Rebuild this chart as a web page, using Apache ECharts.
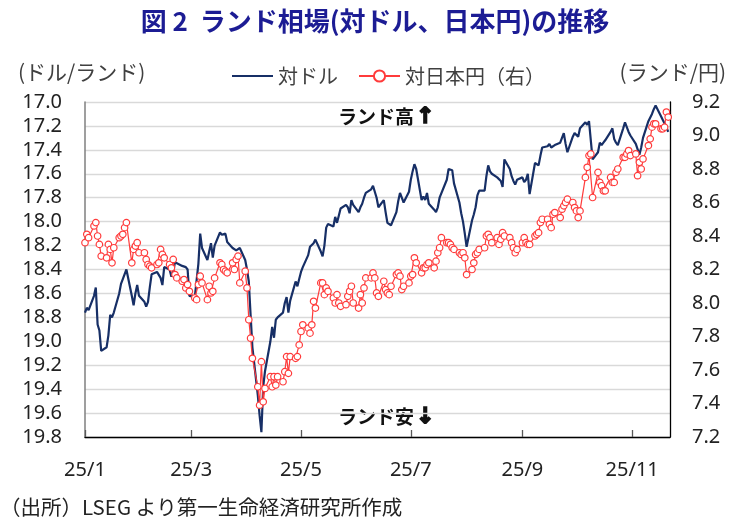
<!DOCTYPE html>
<html><head><meta charset="utf-8">
<script src="https://cdn.jsdelivr.net/npm/echarts@6/dist/echarts.min.js"></script>
<style>html,body{margin:0;padding:0;background:#fff}#c{width:729px;height:520px}</style>
</head><body><div id="c"></div>
<script>
// ---- data ----
const startDate = '2025-01-01';
const endDate = '2025-11-21';
const xTickDates = ['2025-01-01','2025-03-01','2025-05-01','2025-07-01','2025-09-01','2025-11-01'];
const xTickLabels = ['25/1','25/3','25/5','25/7','25/9','25/11'];
const seriesNames = ['対ドル','対日本円（右）'];
// rand per US dollar (left axis, inverted), one value per business day
const usdZar = [
18.76,18.72,18.74,
18.62,18.55,18.86,18.91,19.08,
19.05,18.95,18.78,18.80,18.76,
18.60,18.52,18.48,18.47,18.40,
18.62,18.70,18.60,18.53,18.62,
18.67,18.71,18.67,18.55,18.44,
18.42,18.43,18.47,18.53,18.38,
18.40,18.46,18.42,18.34,18.35,
18.37,18.38,18.38,18.40,18.62,
18.63,18.64,18.35,18.10,18.22,
18.32,18.25,18.18,18.30,18.20,
18.09,18.11,18.10,18.10,18.17,
18.22,18.23,18.24,18.25,18.22,
18.32,18.40,18.50,18.78,19.05,
19.45,19.62,19.76,19.38,19.25,
19.00,18.88,18.97,18.82,18.80,
18.76,18.68,18.63,18.76,18.66,
18.50,18.54,18.48,18.42,18.38,
18.28,18.21,18.22,18.18,18.15,
18.25,18.29,18.20,18.05,18.02,
18.04,17.96,18.01,17.95,17.89,
17.86,17.88,17.93,17.82,17.86,
17.92,17.88,17.85,17.80,17.76,
17.73,17.70,17.70,17.80,17.88,
17.82,17.92,18.01,18.00,18.03,
17.92,17.83,17.76,17.80,17.84,
17.75,17.65,17.58,17.52,17.56,
17.82,17.79,17.82,17.76,17.85,
17.90,17.92,17.88,17.80,17.80,
17.65,17.56,17.56,17.57,17.68,
17.84,17.93,18.00,18.10,18.21,
17.99,17.94,17.88,17.78,17.74,
17.74,17.62,17.53,17.58,17.60,
17.63,17.64,17.66,17.71,17.48,
17.56,17.62,17.66,17.69,17.65,
17.63,17.67,17.65,17.60,17.77,
17.51,17.51,17.53,17.45,17.38,
17.37,17.35,17.38,17.37,17.36,
17.34,17.33,17.26,17.35,17.42,
17.29,17.26,17.27,17.29,17.22,
17.17,17.19,17.16,17.15,17.48,
17.42,17.34,17.36,17.34,17.32,
17.25,17.22,17.31,17.34,17.36,
17.22,17.17,17.16,17.25,17.28,
17.35,17.36,17.44,17.38,17.30,
17.16,17.15,17.10,17.06,17.03,
17.12,17.15,17.18,17.21,17.25
];
// yen per rand (right axis), one value per business day
const jpyZar = [
8.36,8.41,8.39,
8.46,8.48,8.40,8.35,8.28,
8.27,8.35,8.32,8.24,8.33,
8.39,8.40,8.41,8.45,8.48,
8.24,8.32,8.34,8.36,8.30,
8.30,8.26,8.23,8.22,8.21,
8.23,8.24,8.32,8.29,8.27,
8.23,8.21,8.26,8.17,8.15,
8.13,8.14,8.09,8.11,8.07,
8.03,8.02,8.11,8.16,8.12,
8.02,8.10,8.06,8.07,8.15,
8.24,8.23,8.20,8.19,8.18,
8.24,8.20,8.26,8.28,8.12,
8.19,8.09,7.90,7.79,7.67,
7.50,7.39,7.65,7.41,7.49,
7.56,7.50,7.56,7.51,7.56,
7.53,7.59,7.68,7.58,7.68,
7.67,7.68,7.75,7.83,7.87,
7.85,7.82,7.87,8.01,7.97,
8.12,8.12,8.05,8.09,8.07,
8.03,8.00,8.05,8.00,7.98,
7.99,8.04,8.07,8.10,8.00,
7.97,8.05,8.00,8.09,8.15,
8.15,8.18,8.15,8.06,8.04,
8.13,8.08,8.06,8.05,8.10,
8.17,8.18,8.16,8.08,8.10,
8.12,8.16,8.17,8.27,8.24,
8.18,8.21,8.21,8.23,8.24,
8.21,8.25,8.30,8.33,8.39,
8.36,8.36,8.35,8.33,8.32,
8.30,8.29,8.30,8.27,8.17,
8.20,8.24,8.29,8.30,8.32,
8.33,8.40,8.41,8.39,8.36,
8.39,8.35,8.38,8.42,8.40,
8.39,8.36,8.33,8.30,8.32,
8.36,8.39,8.36,8.35,8.35,
8.40,8.41,8.42,8.48,8.50,
8.50,8.47,8.45,8.53,8.54,
8.51,8.56,8.58,8.60,8.62,
8.60,8.57,8.55,8.51,8.55,
8.75,8.81,8.88,8.89,8.63,
8.78,8.72,8.70,8.67,8.67,
8.75,8.72,8.72,8.78,8.80,
8.87,8.87,8.89,8.91,8.88,
8.89,8.76,8.84,8.80,8.86,
8.94,8.98,9.05,9.07,9.07,
9.04,9.04,9.05,9.14,9.11
];

// ---- helpers ----
const DAY = 86400000;
const t0 = Date.parse(startDate + 'T00:00:00Z');
function dayOffset(s){ return (Date.parse(s + 'T00:00:00Z') - t0) / DAY; }
function businessDays(s, e){
  const out = []; const end = Date.parse(e + 'T00:00:00Z');
  for (let t = Date.parse(s + 'T00:00:00Z'); t <= end; t += DAY){
    const wd = new Date(t).getUTCDay();
    if (wd !== 0 && wd !== 6) out.push(new Date(t).toISOString().slice(0,10));
  }
  return out;
}
const dates = businessDays(startDate, endDate);
const xs = dates.map(dayOffset);
const tickPos = xTickDates.map(dayOffset);
const blueData = xs.map((x,i) => [x, usdZar[i]]);
const redData = xs.map((x,i) => [x, jpyZar[i]]);

const NUM = "'Noto Sans','Noto Sans CJK JP',sans-serif";
const JP = "'Noto Sans CJK JP','Noto Sans',sans-serif";

const chart = echarts.init(document.getElementById('c'), null, {renderer:'canvas'});
chart.setOption({
  backgroundColor:'#fff',
  animation:false,
  grid:{left:85, right:59, top:102, bottom:83, containLabel:false},
  legend:{
    left:226, top:61, itemWidth:41, itemHeight:14, itemGap:20,
    textStyle:{fontSize:20, color:'#404040', fontFamily:JP},
    data:[{name:seriesNames[0], itemStyle:{opacity:0}}, {name:seriesNames[1]}]
  },
  xAxis:{
    type:'value', min:0, max:325,
    axisLine:{onZero:false, lineStyle:{color:'#000', width:1.3}},
    axisTick:{show:true, inside:true, length:7, customValues:tickPos, lineStyle:{color:'#595959', width:1.3}},
    axisLabel:{customValues:tickPos, margin:23, fontSize:20, color:'#222', fontFamily:NUM,
      formatter:v => { const i = tickPos.findIndex(p => Math.abs(p - v) < 0.01); return i >= 0 ? xTickLabels[i] : ''; }},
    splitLine:{show:false}
  },
  yAxis:[{
    type:'value', inverse:true, min:17.0, max:19.8, interval:0.2,
    axisLine:{show:true, lineStyle:{color:'#7f7f7f', width:1.5}},
    axisTick:{show:false},
    axisLabel:{margin:23, fontSize:20, color:'#222', fontFamily:NUM, formatter:v => v.toFixed(1)},
    splitLine:{show:true, lineStyle:{color:'#d9d9d9', width:1.3}}
  },{
    type:'value', position:'right', min:7.2, max:9.2, interval:0.2,
    axisLine:{show:true, lineStyle:{color:'#000', width:1.3}},
    axisTick:{show:false},
    axisLabel:{margin:22, fontSize:20, color:'#222', fontFamily:NUM, formatter:v => v.toFixed(1)},
    splitLine:{show:false}
  }],
  series:[{
    name:seriesNames[0], type:'line', yAxisIndex:0, data:blueData,
    symbol:'none', showSymbol:false, z:2,
    lineStyle:{color:'#172f66', width:2.2}, itemStyle:{color:'#172f66'}
  },{
    name:seriesNames[1], type:'line', yAxisIndex:1, data:redData,
    symbol:'circle', symbolSize:6.5, showSymbol:true, z:3, clip:false,
    lineStyle:{color:'#ff3b3b', width:1.2},
    itemStyle:{color:'#fff', borderColor:'#ff3b3b', borderWidth:1.2}
  }],
  graphic:[
    {type:'text', style:{text:'図 2  ランド相場(対ドル、日本円)の推移', x:375, y:21, align:'center', verticalAlign:'middle', font:"bold 26px 'Noto Sans CJK JP'", fill:'#1c1c94'}},
    {type:'text', style:{text:'(ドル/ランド)', x:18, y:72, align:'left', verticalAlign:'middle', font:"21px 'Noto Sans CJK JP'", fill:'#404040'}},
    {type:'text', style:{text:'(ランド/円)', x:726, y:72, align:'right', verticalAlign:'middle', font:"21px 'Noto Sans CJK JP'", fill:'#404040'}},
    {type:'text', style:{text:'ランド高', x:338, y:117, align:'left', verticalAlign:'middle', font:"bold 19px 'Noto Sans CJK JP'", fill:'#111'}},
    {type:'text', style:{text:'↑', x:416, y:117, align:'left', verticalAlign:'middle', font:"bold 22px 'DejaVu Sans'", fill:'#111', stroke:'#111', lineWidth:1.6}},
    {type:'text', style:{text:'ランド安', x:338, y:417, align:'left', verticalAlign:'middle', font:"bold 19px 'Noto Sans CJK JP'", fill:'#111'}},
    {type:'text', style:{text:'↓', x:416, y:417, align:'left', verticalAlign:'middle', font:"bold 22px 'DejaVu Sans'", fill:'#111', stroke:'#111', lineWidth:1.6}},
    {type:'text', style:{text:'（出所）LSEG より第一生命経済研究所作成', x:0, y:507, align:'left', verticalAlign:'middle', font:"20.5px 'Noto Sans CJK JP'", fill:'#222'}}
  ]
});
</script></body></html>
